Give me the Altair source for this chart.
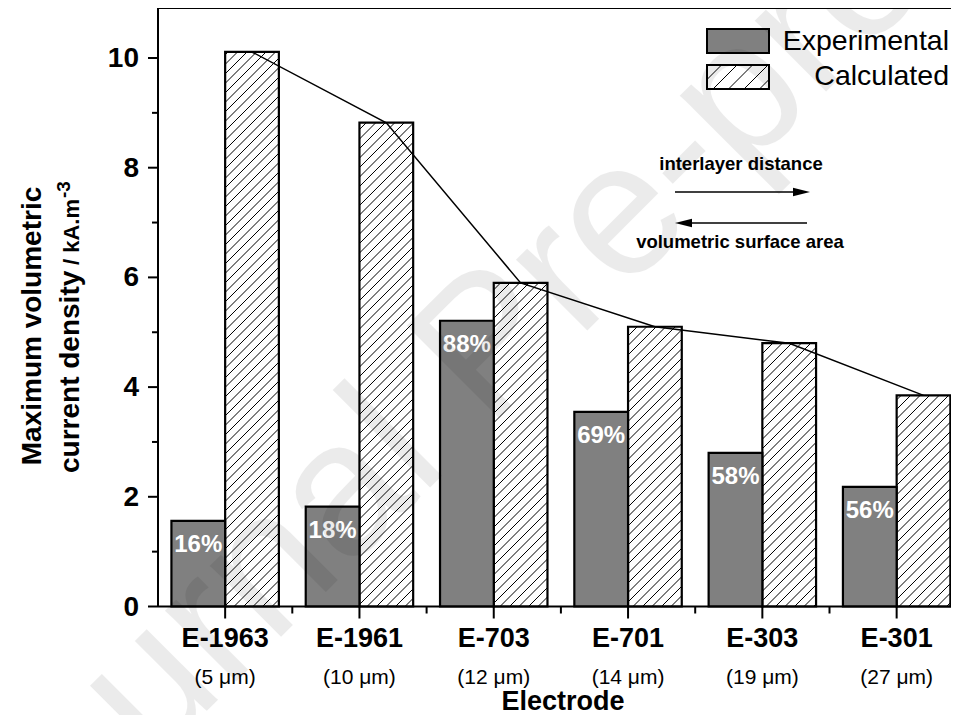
import altair as alt
import pandas as pd
import math

# ---------------- data ----------------
categories = ["E-1963", "E-1961", "E-703", "E-701", "E-303", "E-301"]
spacings = ["(5 μm)", "(10 μm)", "(12 μm)", "(14 μm)", "(19 μm)", "(27 μm)"]
experimental = [1.56, 1.82, 5.21, 3.55, 2.80, 2.18]
calculated = [10.11, 8.82, 5.90, 5.10, 4.80, 3.85]
percent_labels = ["16%", "18%", "88%", "69%", "58%", "56%"]
y_ticks = [0, 2, 4, 6, 8, 10]
y_minor = [1, 3, 5, 7, 9]
x_minor = [1.5, 2.5, 3.5, 4.5, 5.5]

# ---------------- geometry ----------------
W = 793          # plot width (px)
H = 598.5        # plot height (px)
PX_X = 134.3     # px per category unit
XMIN = 0.5
XMAX = XMIN + W / PX_X
PX_Y = (H - 50) / 10.0
YMAX = H / PX_Y
BAR_W = 0.4
HATCH = 9.5      # px between hatch lines (horizontal)

FONT = "Liberation Sans, Arial, Helvetica, sans-serif"

xs = alt.Scale(domain=[XMIN, XMAX], nice=False, zero=False)
ys = alt.Scale(domain=[0, YMAX], nice=False, zero=False)

positions = list(range(1, len(categories) + 1))
bars = pd.DataFrame({
    "cat": categories,
    "sub": spacings,
    "pos": positions,
    "exp": experimental,
    "calc": calculated,
    "pct": percent_labels,
})

# hatch lines for the calculated bars (derived from the values)
rows = []
for p, v in zip(positions, calculated):
    X0 = (p - XMIN) * PX_X
    w = BAR_W * PX_X
    h = v * PX_Y
    m_lo = math.floor((X0 - h) / HATCH)
    m_hi = math.ceil((X0 + w) / HATCH)
    for m in range(m_lo, m_hi + 1):
        c = m * HATCH - X0
        u0 = max(c, 0.0)
        v0 = u0 - c
        v1 = min(h, w - c)
        u1 = c + v1
        if v1 - v0 <= 0.5:
            continue
        rows.append({"x": p + u0 / PX_X, "y": v0 / PX_Y,
                     "x2": p + u1 / PX_X, "y2": v1 / PX_Y})
hatch = pd.DataFrame(rows)

one = pd.DataFrame({"k": [0]})

# legend swatch hatch (pixel space)
LEG_X0, LEG_X1 = 549, 611
LEG_Y0, LEG_Y1 = 57, 81
LH = 15.5
lrows = []
lw, lh = LEG_X1 - LEG_X0, LEG_Y1 - LEG_Y0
m = -int(lh // LH) - 1
while m * LH < lw + LH:
    c = m * LH + 6
    u0 = max(c, 0.0)
    v0 = u0 - c
    v1 = min(lh, lw - c)
    u1 = c + v1
    if v1 - v0 > 0.5:
        lrows.append({"x": LEG_X0 + u0, "y": LEG_Y1 - v0,
                      "x2": LEG_X0 + u1, "y2": LEG_Y1 - v1})
    m += 1
leg_hatch = pd.DataFrame(lrows)

base = alt.Chart(bars)

exp_bars = base.transform_calculate(x0=f"datum.pos - {BAR_W}").mark_rect(
    fill="#808080", stroke="black", strokeWidth=2.2
).encode(
    x=alt.X("x0:Q", scale=xs, axis=None),
    x2="pos:Q",
    y=alt.Y("exp:Q", scale=ys, axis=None),
    y2=alt.datum(0),
)

calc_fill = base.transform_calculate(x1=f"datum.pos + {BAR_W}").mark_rect(
    fill="white", stroke=None
).encode(
    x=alt.X("pos:Q", scale=xs, axis=None),
    x2="x1:Q",
    y=alt.Y("calc:Q", scale=ys, axis=None),
    y2=alt.datum(0),
)

hatch_lines = alt.Chart(hatch).mark_rule(color="black", strokeWidth=1).encode(
    x=alt.X("x:Q", scale=xs, axis=None),
    y=alt.Y("y:Q", scale=ys, axis=None),
    x2="x2:Q",
    y2="y2:Q",
)

calc_outline = base.transform_calculate(x1=f"datum.pos + {BAR_W}").mark_rect(
    fillOpacity=0, stroke="black", strokeWidth=2.2
).encode(
    x=alt.X("pos:Q", scale=xs, axis=None),
    x2="x1:Q",
    y=alt.Y("calc:Q", scale=ys, axis=None),
    y2=alt.datum(0),
)

trend = base.transform_calculate(xc=f"datum.pos + {BAR_W / 2}").mark_line(
    color="black", strokeWidth=1.5
).encode(
    x=alt.X("xc:Q", scale=xs, axis=None),
    y=alt.Y("calc:Q", scale=ys, axis=None),
)

pct = base.transform_calculate(xc=f"datum.pos - {BAR_W / 2}").mark_text(
    font=FONT, fontSize=24, fontWeight="bold", color="white",
    baseline="alphabetic", align="center", dy=31
).encode(
    x=alt.X("xc:Q", scale=xs, axis=None),
    y=alt.Y("exp:Q", scale=ys, axis=None),
    text="pct:N",
)

# axes lines / frame
frame_left = alt.Chart(one).mark_rule(color="black", strokeWidth=2).encode(
    x=alt.value(0), y=alt.value(0), y2=alt.value(H))
frame_bottom = alt.Chart(one).mark_rule(color="black", strokeWidth=2).encode(
    x=alt.value(0), x2=alt.value(W), y=alt.value(H))
frame_top = alt.Chart(one).mark_rule(color="black", strokeWidth=2).encode(
    x=alt.value(0), x2=alt.value(W), y=alt.value(0))

# x ticks
xt_major = base.mark_rule(color="black", strokeWidth=2).encode(
    x=alt.X("pos:Q", scale=xs, axis=None), y=alt.value(H), y2=alt.value(H + 12))
xt_minor = alt.Chart(pd.DataFrame({"p": x_minor})).mark_rule(
    color="black", strokeWidth=2).encode(
    x=alt.X("p:Q", scale=xs, axis=None), y=alt.value(H), y2=alt.value(H + 7))

# y ticks
yt_df = pd.DataFrame({"v": y_ticks, "lab": [str(t) for t in y_ticks]})
yt_major = alt.Chart(yt_df).mark_rule(color="black", strokeWidth=2).encode(
    y=alt.Y("v:Q", scale=ys, axis=None), x=alt.value(-10), x2=alt.value(0))
yt_minor = alt.Chart(pd.DataFrame({"v": y_minor})).mark_rule(
    color="black", strokeWidth=2).encode(
    y=alt.Y("v:Q", scale=ys, axis=None), x=alt.value(-6), x2=alt.value(0))
yt_labels = alt.Chart(yt_df).mark_text(
    font=FONT, fontSize=28, fontWeight="bold", align="right",
    baseline="middle", dy=1
).encode(
    y=alt.Y("v:Q", scale=ys, axis=None), x=alt.value(-19), text="lab:N")

# x labels
cat_labels = base.mark_text(
    font=FONT, fontSize=27, fontWeight="bold", align="center",
    baseline="alphabetic"
).encode(x=alt.X("pos:Q", scale=xs, axis=None), y=alt.value(639), text="cat:N")
sub_labels = base.mark_text(
    font=FONT, fontSize=21, align="center", baseline="alphabetic"
).encode(x=alt.X("pos:Q", scale=xs, axis=None), y=alt.value(676), text="sub:N")
x_title = alt.Chart(one).mark_text(
    font=FONT, fontSize=27, fontWeight="bold", align="center",
    baseline="alphabetic", text="Electrode"
).encode(x=alt.value(405), y=alt.value(702))

# y title pieces
yt1 = alt.Chart(one).mark_text(
    font=FONT, fontSize=28, fontWeight="bold", angle=270, align="center",
    baseline="alphabetic", text="Maximum volumetric"
).encode(x=alt.value(-117), y=alt.value(318))
yt2 = alt.Chart(one).mark_text(
    font=FONT, fontSize=28, fontWeight="bold", angle=270, align="left",
    baseline="alphabetic", text="current density"
).encode(x=alt.value(-79), y=alt.value(465))
yt3 = alt.Chart(one).mark_text(
    font=FONT, fontSize=22, fontWeight="bold", angle=270, align="left",
    baseline="alphabetic", text="/ kA.m"
).encode(x=alt.value(-79), y=alt.value(257))
yt4 = alt.Chart(one).mark_text(
    font=FONT, fontSize=19, fontWeight="bold", angle=270, align="left",
    baseline="alphabetic", text="-3"
).encode(x=alt.value(-88), y=alt.value(190))

# legend
leg_exp = alt.Chart(one).mark_rect(fill="#808080", stroke="black", strokeWidth=2).encode(
    x=alt.value(LEG_X0), x2=alt.value(LEG_X1), y=alt.value(21), y2=alt.value(45))
leg_calc_fill = alt.Chart(one).mark_rect(fill="white").encode(
    x=alt.value(LEG_X0), x2=alt.value(LEG_X1), y=alt.value(LEG_Y0), y2=alt.value(LEG_Y1))
leg_hatch_lines = alt.Chart(leg_hatch).mark_rule(color="black", strokeWidth=1).encode(
    x=alt.X("x:Q", scale=None), x2="x2:Q",
    y=alt.Y("y:Q", scale=None), y2="y2:Q")
leg_calc_out = alt.Chart(one).mark_rect(fillOpacity=0, stroke="black", strokeWidth=2).encode(
    x=alt.value(LEG_X0), x2=alt.value(LEG_X1), y=alt.value(LEG_Y0), y2=alt.value(LEG_Y1))
leg_t1 = alt.Chart(one).mark_text(
    font=FONT, fontSize=28.5, align="right", baseline="alphabetic", text="Experimental"
).encode(x=alt.value(791), y=alt.value(42))
leg_t2 = alt.Chart(one).mark_text(
    font=FONT, fontSize=28.5, align="right", baseline="alphabetic", text="Calculated"
).encode(x=alt.value(791), y=alt.value(77))

# annotations
ann1 = alt.Chart(one).mark_text(
    font=FONT, fontSize=18.5, fontWeight="bold", align="center",
    baseline="alphabetic", text="interlayer distance"
).encode(x=alt.value(583), y=alt.value(162))
ann2 = alt.Chart(one).mark_text(
    font=FONT, fontSize=18.5, fontWeight="bold", align="center",
    baseline="alphabetic", text="volumetric surface area"
).encode(x=alt.value(582), y=alt.value(240))
arr1_line = alt.Chart(one).mark_rule(color="black", strokeWidth=1.5).encode(
    x=alt.value(517), x2=alt.value(639), y=alt.value(184))
arr1_head = alt.Chart(one).mark_point(
    shape="M -1 -0.5 L 1 0 L -1 0.5 Z", filled=True, color="black", size=289, opacity=1
).encode(x=alt.value(643.5), y=alt.value(184))
arr2_line = alt.Chart(one).mark_rule(color="black", strokeWidth=1.5).encode(
    x=alt.value(529), x2=alt.value(649), y=alt.value(215))
arr2_head = alt.Chart(one).mark_point(
    shape="M 1 -0.5 L -1 0 L 1 0.5 Z", filled=True, color="black", size=289, opacity=1
).encode(x=alt.value(525.5), y=alt.value(215))

# watermark
watermark = alt.Chart(one).mark_text(
    font=FONT, fontSize=190, angle=315, align="center", baseline="middle",
    color="black", opacity=0.075, text="Journal Pre-proof"
).encode(x=alt.value(331), y=alt.value(340))

chart = alt.layer(
    calc_fill, hatch_lines, calc_outline, exp_bars, trend, pct,
    frame_top, frame_left, frame_bottom,
    xt_major, xt_minor, yt_major, yt_minor, yt_labels,
    cat_labels, sub_labels, x_title,
    yt1, yt2, yt3, yt4,
    leg_exp, leg_calc_fill, leg_hatch_lines, leg_calc_out, leg_t1, leg_t2,
    ann1, ann2, arr1_line, arr1_head, arr2_line, arr2_head,
    watermark,
).properties(
    width=W, height=H,
    autosize=alt.AutoSizeParams(type="none"),
    padding={"left": 150, "top": 0, "right": 0, "bottom": 108.5},
).configure_view(stroke=None)

chart.save("out.html", embed_options={"renderer": "svg", "actions": False})
